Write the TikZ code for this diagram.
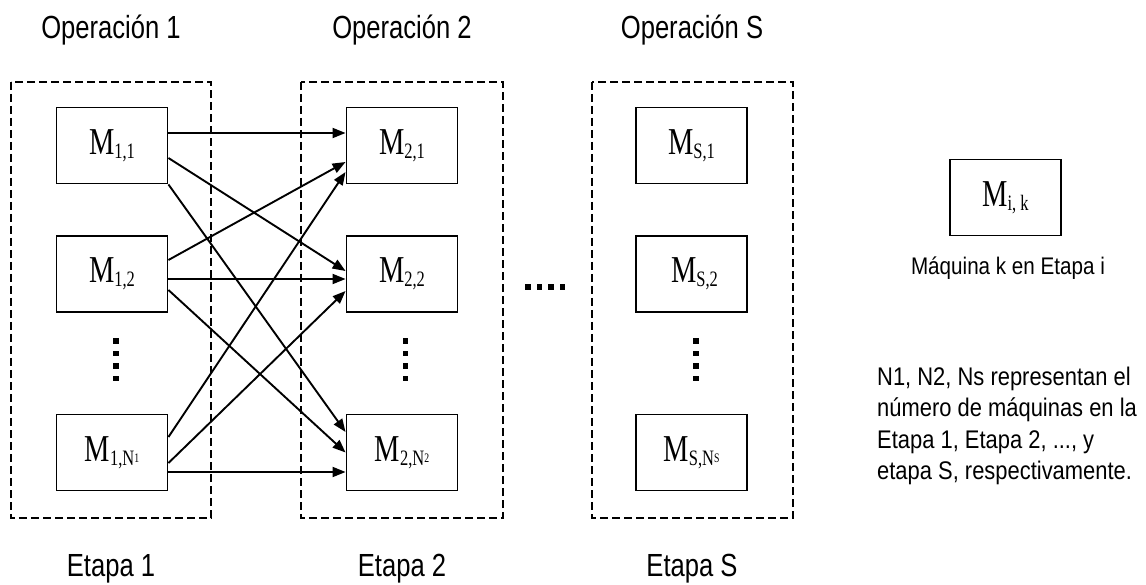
\documentclass[tikz,border=0pt]{standalone}
\usepackage{fontspec}
\usetikzlibrary{arrows.meta}
\newfontfamily\lblfont[FakeStretch=0.8]{Liberation Sans}
\newfontfamily\legfont[FakeStretch=0.86]{Liberation Sans}
\newfontfamily\mserif[FakeStretch=0.75]{Liberation Serif}
\newcommand\Mlab[1]{{\mserif\fontsize{38}{38}\selectfont M\raisebox{-4pt}{\fontsize{22}{22}\selectfont #1}}}
\newcommand\Nsub[1]{N\raisebox{3pt}{\fontsize{13}{13}\selectfont #1}}
\begin{document}
\begin{tikzpicture}[x=1pt,y=-1pt,
  mbox/.style={draw,line width=1.9pt,minimum width=111pt,minimum height=76pt,inner sep=0pt},
  stagebox/.style={draw,line width=1.4pt,dash pattern=on 8pt off 4pt},
  arr/.style={line width=1.9pt,-{Triangle[length=13pt,width=10pt]}},
  lbl/.style={font=\lblfont\fontsize{32}{32}\selectfont,inner sep=0pt,anchor=base},
  legtxt/.style={font=\legfont\fontsize{25.5}{25.5}\selectfont,inner sep=0pt,anchor=base west},
  dotsq/.style={fill=black,draw=none}]
\useasboundingbox (0,0) rectangle (1146,585);
% stage boxes
\draw[stagebox] (11,82) rectangle (211,518);
\draw[stagebox] (301,82) rectangle (503,518);
\draw[stagebox] (592,82) rectangle (793,518);
% titles
\node[lbl] (op1) at (111,39) {Operación 1};
\node[lbl] (op2) at (402,39) {Operación 2};
\node[lbl] (ops) at (692,39) {Operación S};
\node[lbl] (et1) at (111,576) {Etapa 1};
\node[lbl] (et2) at (402,576) {Etapa 2};
\node[lbl] (ets) at (692,576) {Etapa S};
% machines
\node[mbox] (m11) at (112,145.5) {\Mlab{1,1}};
\node[mbox] (m12) at (112,274) {\Mlab{1,2}};
\node[mbox] (m1n) at (112,452.5) {\Mlab{1,\Nsub{1}}};
\node[mbox] (m21) at (402,145.5) {\Mlab{2,1}};
\node[mbox] (m22) at (402,274) {\Mlab{2,2}};
\node[mbox] (m2n) at (402,452.5) {\Mlab{2,\Nsub{2}}};
\node[mbox] (ms1) at (691.5,145.5) {\Mlab{S,1}};
\node[mbox] (ms2) at (691.5,274) {\hspace*{6pt}\Mlab{S,2}};
\node[mbox] (msn) at (691.5,452.5) {\Mlab{S,\Nsub{S}}};
% legend
\node[mbox] (mik) at (1005.5,197.5) {\Mlab{i, k}};
\node[font=\legfont\fontsize{24}{24}\selectfont,inner sep=0pt,anchor=base] (legm) at (1008,275) {Máquina k en Etapa i};
\node[legtxt] (l1) at (877,385) {N1, N2, Ns representan el};
\node[legtxt] (l2) at (877,416.5) {número de máquinas en la};
\node[legtxt] (l3) at (877,448) {Etapa 1, Etapa 2, ..., y};
\node[legtxt] (l4) at (877,479.5) {etapa S, respectivamente.};
% arrows from M11
\draw[arr] ([yshift=12.5pt]m11.east) -- ([yshift=12.5pt]m21.west);
\draw[arr] ([yshift=-12.5pt]m11.east) -- ([yshift=3pt]m22.west);
\draw[arr] (m11.south east) -- ([yshift=20.5pt]m2n.west);
% arrows from M12
\draw[arr] ([yshift=14pt]m12.east) -- ([yshift=-16.5pt]m21.west);
\draw[arr] ([yshift=-5pt]m12.east) -- ([yshift=-5pt]m22.west);
\draw[arr] ([yshift=-16pt]m12.east) -- ([yshift=0pt]m2n.west);
% arrows from M1N1
\draw[arr] ([yshift=15.5pt]m1n.east) -- ([yshift=-26.5pt]m21.west);
\draw[arr] ([yshift=-10.5pt]m1n.east) -- ([yshift=-17pt]m22.west);
\draw[arr] ([yshift=-19.5pt]m1n.east) -- ([yshift=-19.5pt]m2n.west);
% vertical dots
\foreach \cx in {116,405.5,696}{
  \foreach \cy in {341,353.5,366,378.5}{
    \fill[dotsq] (\cx-2.8,\cy-2.8) rectangle (\cx+2.8,\cy+2.8);
  }
}
% horizontal dots
\foreach \cx in {528,539.5,551,562.5}{
  \fill[dotsq] (\cx-2.8,287-2.8) rectangle (\cx+2.8,287+2.8);
}
\end{tikzpicture}
\end{document}
